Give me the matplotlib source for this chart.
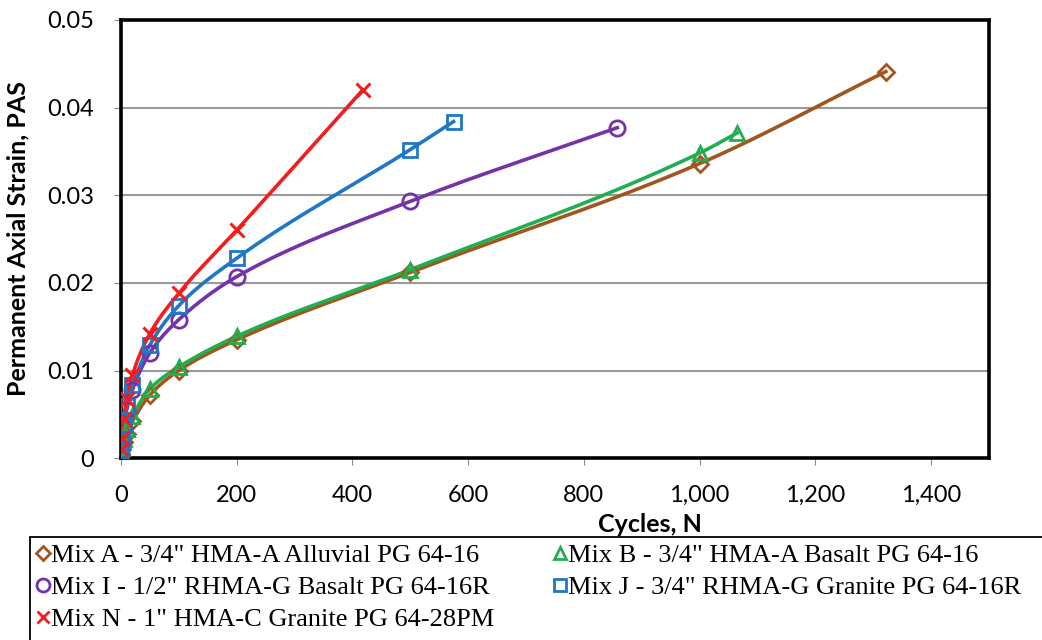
import numpy as np
import matplotlib
matplotlib.use("Agg")
import matplotlib.pyplot as plt
from matplotlib.lines import Line2D
from matplotlib.patches import Rectangle
from matplotlib.ticker import FuncFormatter

# ---------------- data ----------------
mix_a_n = [1, 2, 5, 10, 20, 50, 100, 200, 500, 1000, 1322]
mix_a_pas = [0.0005, 0.0010, 0.0019, 0.0028, 0.0042, 0.0072, 0.0100, 0.0135, 0.0212, 0.0336, 0.0441]

mix_b_n = [1, 2, 5, 10, 20, 50, 100, 200, 500, 1000, 1065]
mix_b_pas = [0.0006, 0.0012, 0.0022, 0.0033, 0.0048, 0.0079, 0.0104, 0.0139, 0.0215, 0.0348, 0.0371]

mix_i_n = [1, 2, 5, 10, 20, 50, 100, 200, 500, 858]
mix_i_pas = [0.0008, 0.0018, 0.0035, 0.0055, 0.0078, 0.0120, 0.0158, 0.0207, 0.0293, 0.0377]

mix_j_n = [1, 2, 5, 10, 20, 50, 100, 200, 500, 575]
mix_j_pas = [0.0009, 0.0019, 0.0038, 0.0060, 0.0083, 0.0129, 0.0174, 0.0228, 0.0352, 0.0384]

mix_n_n = [1, 2, 5, 10, 20, 50, 100, 200, 418]
mix_n_pas = [0.0010, 0.0023, 0.0045, 0.0068, 0.0095, 0.0142, 0.0188, 0.0260, 0.0420]

labels = ['Mix A - 3/4" HMA-A Alluvial PG 64-16',
          'Mix B - 3/4" HMA-A Basalt PG 64-16',
          'Mix I - 1/2" RHMA-G Basalt PG 64-16R',
          'Mix J - 3/4" RHMA-G Granite PG 64-16R',
          'Mix N - 1" HMA-C Granite PG 64-28PM']

x_ticks = [0, 200, 400, 600, 800, 1000, 1200, 1400]
y_ticks = [0, 0.01, 0.02, 0.03, 0.04, 0.05]

colors = ['#A0561E', '#20AE50', '#7433A8', '#1F78C4', '#F41C1C']
markers = ['D', '^', 'o', 's', 'x']
msizes = [8, 10, 11, 10, 10]


def pchip(x, y, xn):
    x = np.asarray(x, float); y = np.asarray(y, float)
    h = np.diff(x); d = np.diff(y) / h
    n = len(x)
    m = np.zeros(n)
    for k in range(1, n - 1):
        if d[k - 1] * d[k] > 0:
            w1 = 2 * h[k] + h[k - 1]; w2 = h[k] + 2 * h[k - 1]
            m[k] = (w1 + w2) / (w1 / d[k - 1] + w2 / d[k])
    m[0] = d[0]; m[-1] = d[-1]
    idx = np.clip(np.searchsorted(x, xn) - 1, 0, n - 2)
    t = (xn - x[idx]) / h[idx]
    h00 = 2 * t**3 - 3 * t**2 + 1; h10 = t**3 - 2 * t**2 + t
    h01 = -2 * t**3 + 3 * t**2; h11 = t**3 - t**2
    return h00 * y[idx] + h10 * h[idx] * m[idx] + h01 * y[idx + 1] + h11 * h[idx] * m[idx + 1]


plt.rcParams['font.family'] = ['Lato', 'DejaVu Sans']
fig = plt.figure(figsize=(10.42, 6.40), dpi=100)
ax = fig.add_axes([0.116, 0.284, 0.833, 0.685])

series = [(mix_a_n, mix_a_pas), (mix_b_n, mix_b_pas), (mix_i_n, mix_i_pas),
          (mix_j_n, mix_j_pas), (mix_n_n, mix_n_pas)]
handles = []
for (xs, ys), c, mk, ms, lab in zip(series, colors, markers, msizes, labels):
    xn = np.concatenate([np.linspace(xs[0], 50, 200), np.linspace(50, xs[-1], 600)])
    ax.plot(xn, pchip(xs, ys, xn), color=c, lw=2.6, zorder=3)
    if mk == 'x':
        ax.plot(xs, ys, ls='none', marker=mk, ms=ms, mew=2.2, color=c, zorder=4)
    else:
        ax.plot(xs, ys, ls='none', marker=mk, ms=ms, mew=2.0, mfc='none', mec=c, zorder=4)
    handles.append(Line2D([], [], ls='none', marker=mk, ms=ms * 0.85, mew=2.0,
                          mfc='none', mec=c, color=c, label=lab))

ax.set_xlim(0, 1500)
ax.set_ylim(0, 0.05)
ax.set_xticks(x_ticks)
ax.set_yticks(y_ticks)
ax.xaxis.set_major_formatter(FuncFormatter(lambda v, p: f'{int(v):,}'))
ax.yaxis.set_major_formatter(FuncFormatter(lambda v, p: '0' if v == 0 else f'{v:.2f}'))
ax.tick_params(axis='both', labelsize=17, length=5, color='#888888', direction='out')
ax.tick_params(axis='x', pad=14)
ax.tick_params(axis='y', pad=14)
ax.grid(axis='y', color='#9a9a9a', lw=1.5)
ax.set_axisbelow(True)
for s in ax.spines.values():
    s.set_color('black'); s.set_linewidth(2.6)
ax.set_xlabel('Cycles, N', fontsize=18, fontweight='bold')
ax.xaxis.set_label_coords((650 - 121) / 868, -0.125)
ax.set_ylabel('Permanent Axial Strain, PAS', fontsize=18, fontweight='bold')
ax.yaxis.set_label_coords(-0.105, 0.5)

# legend box
fig.patches.append(Rectangle((30 / 1042, -0.05), 1.1, (640 - 537) / 640 + 0.05,
                             transform=fig.transFigure, fill=False, ec='black', lw=1.3))
order = [0, 2, 4, 1, 3]
leg = fig.legend([handles[i] for i in order], [labels[i] for i in order],
                 ncol=2, loc='upper left', bbox_to_anchor=(18 / 1042, 1 - 525 / 640),
                 frameon=False, prop={'family': 'Liberation Serif', 'size': 19},
                 handlelength=0.5, handletextpad=0.05, columnspacing=2.25,
                 labelspacing=0.33, borderpad=0.2)

fig.savefig('out.png', dpi=100)
